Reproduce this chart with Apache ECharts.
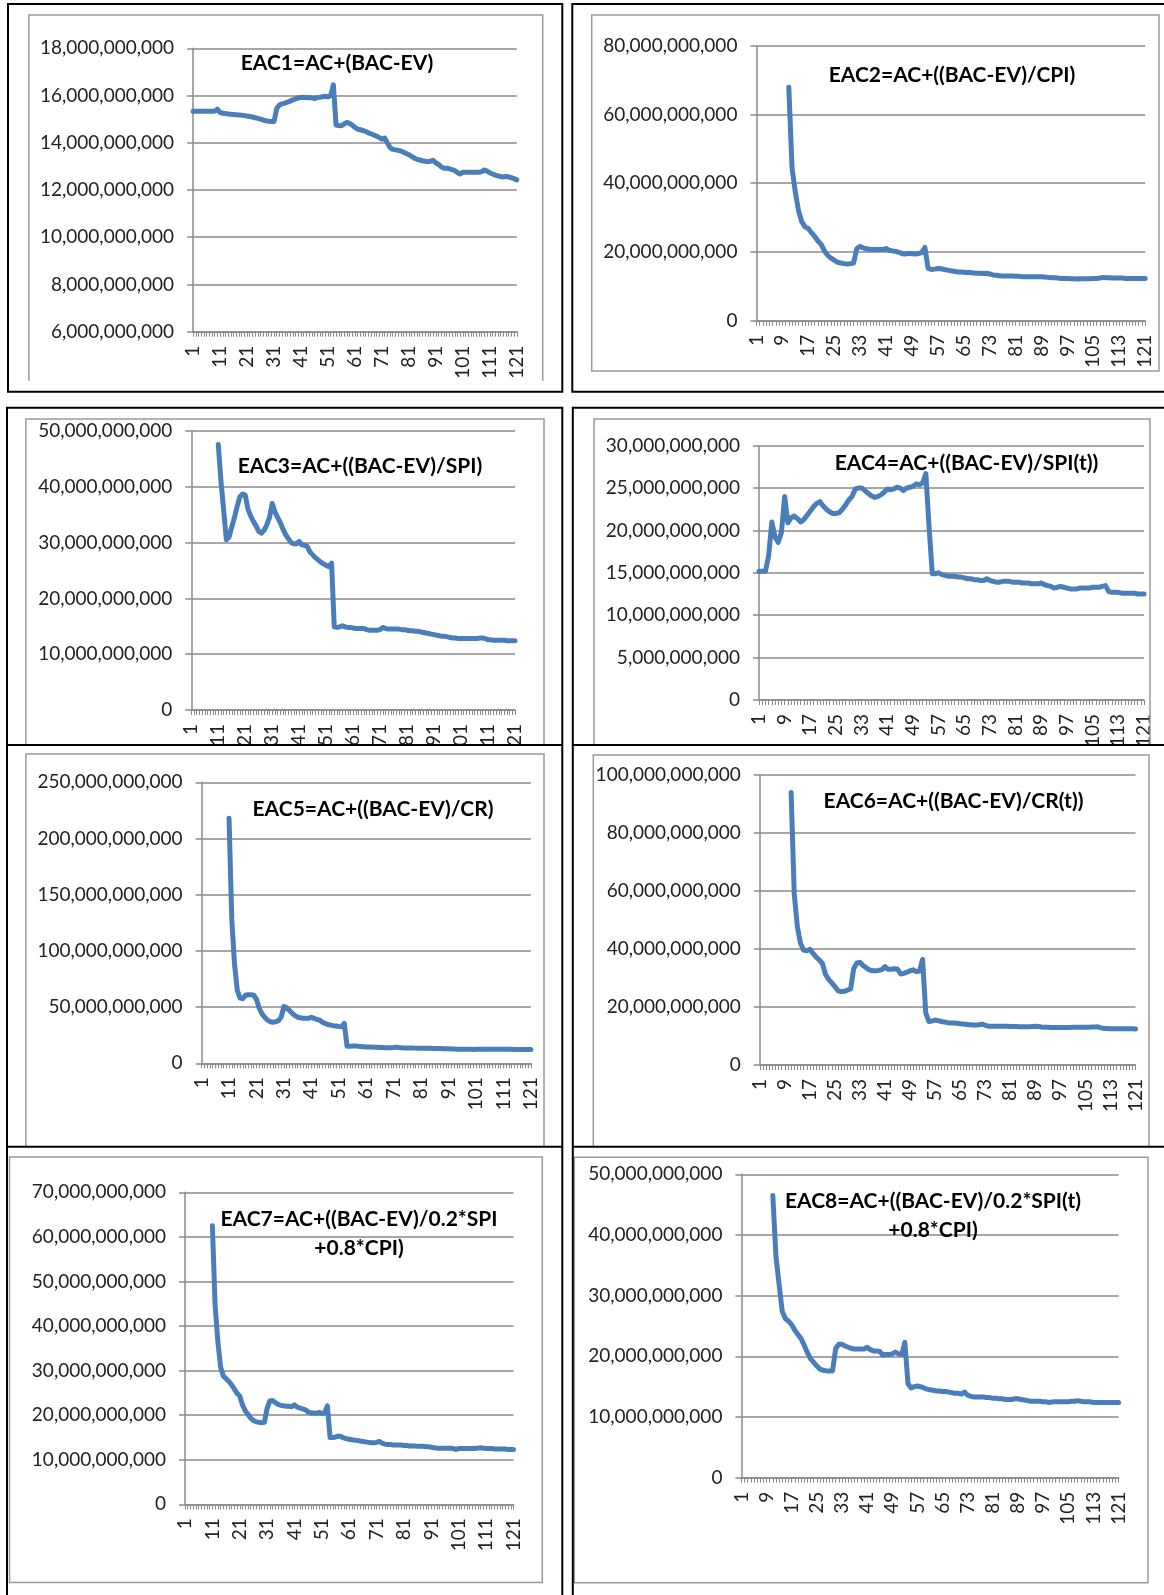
<!DOCTYPE html>
<html>
<head>
<meta charset="utf-8">
<title>EAC estimates</title>
<script src="https://cdn.jsdelivr.net/npm/echarts@6/dist/echarts.min.js"></script>
<style>
  html, body { margin: 0; padding: 0; background: #ffffff; }
  #chart { width: 1164px; height: 1595px; }
</style>
</head>
<body>
<div id="chart"></div>
<script>
// Reporting periods 1..121
const periods = Array.from({ length: 121 }, (_, i) => String(i + 1));

// Estimate at completion per period, in billions
const eac1 = [
  15.33,15.33,15.33,15.33,15.33,15.33,15.33,15.33,15.34,15.42,
  15.28,15.25,15.24,15.22,15.21,15.20,15.19,15.18,15.17,15.15,
  15.13,15.11,15.09,15.06,15.03,15.00,14.96,14.93,14.91,14.90,
  14.90,15.45,15.60,15.65,15.68,15.72,15.76,15.82,15.86,15.90,
  15.92,15.93,15.91,15.92,15.90,15.87,15.92,15.93,15.95,15.97,
  15.94,16.00,16.45,14.75,14.73,14.72,14.80,14.86,14.82,14.75,
  14.65,14.58,14.55,14.52,14.48,14.42,14.38,14.33,14.28,14.22,
  14.15,14.20,14.00,13.80,13.72,13.70,13.68,13.65,13.60,13.54,
  13.50,13.42,13.35,13.30,13.27,13.24,13.22,13.20,13.22,13.26,
  13.15,13.08,12.98,12.92,12.92,12.90,12.86,12.82,12.74,12.68,
  12.75,12.75,12.75,12.75,12.75,12.75,12.75,12.78,12.85,12.80,
  12.73,12.68,12.63,12.60,12.57,12.55,12.58,12.55,12.52,12.48,
  12.43
];
const eac2 = [
  null,null,null,null,null,null,null,null,null,null,
  67.9,44.5,37.5,32.0,28.8,27.3,26.8,25.6,24.5,23.2,
  22.2,20.3,19.0,18.2,17.6,17.0,16.8,16.6,16.5,16.6,
  16.8,21.0,21.6,21.2,20.9,20.8,20.7,20.7,20.7,20.7,
  21.0,20.5,20.3,20.2,19.9,19.5,19.4,19.6,19.5,19.4,
  19.5,19.8,21.3,15.2,14.9,15.0,15.2,15.1,14.9,14.7,
  14.5,14.4,14.2,14.2,14.1,14.0,14.0,13.9,13.8,13.8,
  13.7,13.8,13.6,13.3,13.2,13.1,13.0,13.0,13.0,13.0,
  12.9,12.9,12.8,12.8,12.8,12.8,12.8,12.8,12.8,12.7,
  12.6,12.5,12.5,12.4,12.3,12.3,12.3,12.2,12.2,12.1,
  12.2,12.2,12.2,12.2,12.3,12.3,12.4,12.6,12.5,12.5,
  12.4,12.4,12.4,12.4,12.3,12.3,12.3,12.3,12.3,12.3,
  12.3
];
const eac3 = [
  null,null,null,null,null,null,null,null,null,null,
  47.6,41.0,35.8,30.5,31.0,32.8,34.5,36.5,38.2,38.7,
  38.5,36.0,34.8,33.8,33.0,32.0,31.7,32.2,33.2,34.5,
  37.0,35.5,34.5,33.6,32.4,31.4,30.7,30.0,29.8,29.8,
  30.2,29.6,29.5,29.3,28.3,27.8,27.3,26.9,26.5,26.2,
  25.9,25.7,26.3,14.9,14.8,14.9,15.1,14.9,14.8,14.8,
  14.7,14.6,14.6,14.6,14.6,14.4,14.3,14.3,14.3,14.3,
  14.4,14.8,14.6,14.5,14.5,14.5,14.5,14.5,14.4,14.4,
  14.3,14.2,14.2,14.1,14.1,14.0,13.9,13.8,13.7,13.6,
  13.5,13.4,13.3,13.2,13.2,13.1,13.0,12.9,12.9,12.8,
  12.8,12.8,12.8,12.8,12.8,12.8,12.8,12.9,12.9,12.8,
  12.6,12.6,12.5,12.5,12.5,12.5,12.5,12.4,12.4,12.4,
  12.4
];
const eac4 = [
  15.2,15.2,15.2,17.0,21.0,19.2,18.6,19.8,24.0,20.9,
  21.5,21.7,21.4,21.0,21.3,21.8,22.3,22.8,23.2,23.4,
  22.9,22.5,22.2,22.0,22.0,22.1,22.5,23.0,23.6,24.0,
  24.9,25.0,25.0,24.7,24.4,24.1,23.9,24.0,24.2,24.5,
  24.9,24.8,24.9,25.1,25.0,24.7,25.0,25.1,25.2,25.5,
  25.4,25.6,26.7,20.5,14.9,14.9,15.0,14.8,14.7,14.6,
  14.6,14.6,14.5,14.5,14.4,14.3,14.3,14.2,14.2,14.1,
  14.1,14.3,14.1,14.0,13.9,13.9,14.0,14.0,14.0,13.9,
  13.9,13.9,13.8,13.8,13.8,13.7,13.7,13.7,13.8,13.6,
  13.5,13.4,13.2,13.3,13.4,13.3,13.2,13.1,13.1,13.1,
  13.2,13.2,13.2,13.2,13.3,13.3,13.3,13.4,13.5,12.8,
  12.7,12.7,12.7,12.6,12.6,12.6,12.6,12.6,12.5,12.5,
  12.5
];
const eac5 = [
  null,null,null,null,null,null,null,null,null,null,
  218,128,88,65,58,57.5,60.5,61,61,60.5,
  57,49,44,41,38.5,37,36.5,37,38,41,
  50.5,49.5,47,44.5,42.5,41,40.5,40,40,40,
  41,40,39,38.5,36.5,35.5,34.5,34,33.5,33.2,
  32.8,32.6,35.5,15.2,15.2,15.4,15.5,15.2,15.0,14.8,
  14.6,14.5,14.4,14.3,14.2,14.1,14.0,13.9,13.9,13.9,
  14.0,14.4,14.0,13.8,13.7,13.6,13.6,13.6,13.5,13.5,
  13.4,13.4,13.3,13.3,13.2,13.2,13.1,13.1,13.0,13.0,
  12.9,12.8,12.7,12.6,12.6,12.5,12.5,12.4,12.4,12.3,
  12.4,12.4,12.4,12.4,12.4,12.5,12.5,12.6,12.6,12.5,
  12.5,12.4,12.4,12.4,12.3,12.3,12.3,12.3,12.3,12.3,
  12.3
];
const eac6 = [
  null,null,null,null,null,null,null,null,null,null,
  94,59,47.7,42,39.6,39.4,39.9,38.5,37.2,36.2,
  35.0,31.2,29.5,28.3,27.0,25.6,25.3,25.4,25.8,26.2,
  33.3,35.2,35.4,34.3,33.5,32.8,32.5,32.5,32.6,32.9,
  33.9,33.0,33.0,33.2,33.0,31.4,31.6,32.0,32.5,32.8,
  32.2,32.4,36.4,18.0,15.0,15.2,15.5,15.3,15.0,14.8,
  14.6,14.5,14.5,14.4,14.2,14.1,14.0,13.9,13.8,13.8,
  13.9,14.1,13.7,13.4,13.4,13.4,13.4,13.4,13.4,13.4,
  13.3,13.3,13.3,13.2,13.2,13.2,13.2,13.3,13.4,13.3,
  13.1,13.0,13.0,12.9,12.9,12.9,12.9,12.9,12.9,12.9,
  13.0,13.0,13.0,13.0,13.0,13.0,13.1,13.1,13.2,12.8,
  12.6,12.6,12.5,12.5,12.5,12.5,12.5,12.5,12.5,12.5,
  12.4
];
const eac7 = [
  null,null,null,null,null,null,null,null,null,null,
  62.5,44.7,36.5,30.8,28.8,28.2,27.6,26.8,25.9,24.9,
  24.3,22.3,21.0,20.2,19.3,18.8,18.5,18.4,18.3,18.4,
  21.5,23.2,23.3,22.8,22.4,22.2,22.1,22.0,22.0,21.9,
  22.3,21.8,21.6,21.4,21.2,20.7,20.5,20.5,20.4,20.6,
  20.4,20.5,22.1,15.0,15.0,15.1,15.3,15.2,14.9,14.7,
  14.6,14.5,14.4,14.3,14.2,14.1,14.0,13.9,13.8,13.8,
  13.9,14.1,13.7,13.5,13.4,13.4,13.3,13.3,13.3,13.3,
  13.2,13.2,13.1,13.1,13.1,13.0,13.0,13.0,12.9,12.9,
  12.8,12.7,12.6,12.6,12.6,12.6,12.6,12.6,12.5,12.3,
  12.5,12.5,12.5,12.5,12.5,12.5,12.5,12.6,12.7,12.6,
  12.5,12.5,12.5,12.4,12.4,12.4,12.4,12.4,12.3,12.3,
  12.3
];
const eac8 = [
  null,null,null,null,null,null,null,null,null,null,
  46.5,36.4,31.8,27.4,26.2,25.8,25.2,24.3,23.6,22.9,
  21.8,20.6,19.6,19.0,18.4,17.9,17.7,17.6,17.6,17.6,
  21.3,22.0,22.0,21.7,21.5,21.3,21.2,21.2,21.2,21.2,
  21.5,21.1,20.9,20.9,20.8,20.2,20.3,20.3,20.4,20.7,
  20.4,20.3,22.3,15.5,14.8,15.0,15.1,15.0,14.8,14.6,
  14.5,14.4,14.3,14.3,14.2,14.2,14.1,14.0,13.9,13.9,
  13.8,14.1,13.6,13.4,13.3,13.3,13.3,13.3,13.2,13.2,
  13.1,13.1,13.0,13.0,12.9,12.9,12.9,13.0,13.0,12.9,
  12.8,12.7,12.6,12.6,12.6,12.6,12.5,12.5,12.4,12.5,
  12.5,12.5,12.5,12.5,12.5,12.6,12.6,12.7,12.6,12.5,
  12.5,12.5,12.4,12.4,12.4,12.4,12.4,12.4,12.4,12.4,
  12.4
];

// Value-axis ranges (min, max, step) in billions, one per chart
const yRanges = [
  [6, 18, 2], [0, 80, 20], [0, 50, 10], [0, 30, 5],
  [0, 250, 50], [0, 100, 20], [0, 70, 10], [0, 50, 10]
];
// Category label spacing per chart
const labelEvery = [10, 8, 10, 8, 10, 8, 10, 8];
// Formula captions
const captions = [
  ['EAC1=AC+(BAC-EV)'],
  ['EAC2=AC+((BAC-EV)/CPI)'],
  ['EAC3=AC+((BAC-EV)/SPI)'],
  ['EAC4=AC+((BAC-EV)/SPI(t))'],
  ['EAC5=AC+((BAC-EV)/CR)'],
  ['EAC6=AC+((BAC-EV)/CR(t))'],
  ['EAC7=AC+((BAC-EV)/0.2*SPI', '+0.8*CPI)'],
  ['EAC8=AC+((BAC-EV)/0.2*SPI(t)', '+0.8*CPI)']
];
const series = [eac1, eac2, eac3, eac4, eac5, eac6, eac7, eac8];

const BILLION = 1e9;

// Layout: plot rectangles and caption anchors
const layout = [
  { l: 193.1, t: 48.3,   w: 323.7, h: 283.4, cx: 337,   cy: 63 },
  { l: 756.4, t: 45.7,   w: 388.8, h: 275.0, cx: 952,   cy: 75 },
  { l: 191.3, t: 431.0,  w: 323.7, h: 279.0, cx: 360,   cy: 466 },
  { l: 759.0, t: 445.7,  w: 385.0, h: 254.3, cx: 966.5, cy: 463 },
  { l: 201.6, t: 782.3,  w: 329.3, h: 281.0, cx: 373,   cy: 809 },
  { l: 759.8, t: 775.0,  w: 375.7, h: 290.0, cx: 953.5, cy: 801 },
  { l: 185.0, t: 1192.3, w: 328.5, h: 312.0, cx: 359,   cy: 1219, lh: 29 },
  { l: 741.4, t: 1174.3, w: 377.2, h: 303.4, cx: 933,   cy: 1201, lh: 29 }
];

const FONT = 'Lato, "Open Sans", "Liberation Sans", sans-serif';
const GRID_GRAY = '#8a8a8a';
const FRAME_GRAY = '#9a9a9a';
const TEXT = '#222222';
const BLUE = '#4a7ebb';

function withCommas(v) {
  return String(Math.round(v)).replace(/\B(?=(\d{3})+(?!\d))/g, ',');
}

const grids = layout.map(p => ({
  left: p.l, top: p.t, width: p.w, height: p.h,
  containLabel: false, outerBoundsMode: 'none'
}));

const xAxes = layout.map((p, i) => ({
  type: 'category',
  gridIndex: i,
  data: periods,
  boundaryGap: false,
  axisLine: { show: true, lineStyle: { color: GRID_GRAY, width: 1.5 } },
  axisTick: { show: true, interval: 0, length: 5, lineStyle: { color: GRID_GRAY, width: 1 } },
  axisLabel: {
    interval: labelEvery[i] - 1, rotate: 90, margin: 14,
    fontFamily: FONT, fontSize: 19, color: TEXT
  },
  splitLine: { show: false }
}));

const yAxes = layout.map((p, i) => ({
  type: 'value',
  gridIndex: i,
  min: yRanges[i][0] * BILLION,
  max: yRanges[i][1] * BILLION,
  interval: yRanges[i][2] * BILLION,
  axisLine: { show: true, lineStyle: { color: GRID_GRAY, width: 1.5 } },
  axisTick: { show: true, length: 6, lineStyle: { color: GRID_GRAY, width: 1.5 } },
  axisLabel: {
    margin: 19, fontFamily: FONT, fontSize: 19, color: TEXT,
    formatter: v => withCommas(v)
  },
  splitLine: { show: true, lineStyle: { color: GRID_GRAY, width: 1.5 } }
}));

const lines = series.map((vals, i) => ({
  type: 'line',
  xAxisIndex: i,
  yAxisIndex: i,
  data: vals.map(v => (v == null ? null : v * BILLION)),
  symbol: 'none',
  showSymbol: false,
  silent: true,
  z: 3,
  lineStyle: { color: BLUE, width: 5, cap: 'round', join: 'round' }
}));

// Captions
const captionEls = [];
captions.forEach((rows, i) => {
  const p = layout[i];
  rows.forEach((txt, k) => {
    captionEls.push({
      type: 'text', z: 45, silent: true,
      style: {
        text: txt, x: p.cx, y: p.cy + k * (p.lh || 0),
        align: 'center', verticalAlign: 'middle',
        fontFamily: FONT, fontWeight: 'bold', fontSize: 21, fill: '#000000'
      }
    });
  });
});

// White strips that crop the overflowing axis labels of the second row
const covers = [
  { type: 'rect', z: 40, silent: true, shape: { x: 8.5, y: 746, width: 553, height: 17 }, style: { fill: '#ffffff' } },
  { type: 'rect', z: 40, silent: true, shape: { x: 573.5, y: 746, width: 591, height: 14 }, style: { fill: '#ffffff' } }
];

// Grey chart-area frames
const frameStyle = { stroke: FRAME_GRAY, lineWidth: 1.5, fill: null };
const frames = [
  { type: 'polyline', shape: { points: [[28.9, 380.7], [28.9, 15], [542.7, 15], [542.7, 380.7]] } },
  { type: 'rect', shape: { x: 591.7, y: 15, width: 567.3, height: 356 } },
  { type: 'polyline', shape: { points: [[25.9, 745], [25.9, 419], [544, 419], [544, 745]] } },
  { type: 'polyline', shape: { points: [[594, 745], [594, 419], [1150, 419], [1150, 745]] } },
  { type: 'polyline', shape: { points: [[25.9, 1146.7], [25.9, 754], [544, 754], [544, 1146.7]] } },
  { type: 'polyline', shape: { points: [[593.3, 1146.7], [593.3, 755], [1149, 755], [1149, 1146.7]] } },
  { type: 'rect', shape: { x: 9.5, y: 1157, width: 532.8, height: 425.5 } },
  { type: 'rect', shape: { x: 574.3, y: 1157.3, width: 573.7, height: 425.4 } }
].map(e => Object.assign(e, { z: 50, silent: true, style: Object.assign({}, frameStyle) }));

// Black table rules around the cells
const ruleStyle = { stroke: '#000000', lineWidth: 2, fill: null };
const rules = [
  { type: 'rect', shape: { x: 8, y: 4, width: 554.3, height: 387.7 } },
  { type: 'rect', shape: { x: 572.3, y: 4, width: 620, height: 387.7 } },
  { type: 'polyline', shape: { points: [[7, 1620], [7, 407.7], [562.3, 407.7], [562.3, 1620]] } },
  { type: 'polyline', shape: { points: [[1190, 407.7], [572.8, 407.7], [572.8, 1620]] } },
  { type: 'line', shape: { x1: 7, y1: 745, x2: 562.3, y2: 745 } },
  { type: 'line', shape: { x1: 572.8, y1: 745, x2: 1190, y2: 745 } },
  { type: 'line', shape: { x1: 7, y1: 1146.7, x2: 562.3, y2: 1146.7 } },
  { type: 'line', shape: { x1: 572.8, y1: 1146.7, x2: 1190, y2: 1146.7 } }
].map(e => Object.assign(e, { z: 60, silent: true, style: Object.assign({}, ruleStyle) }));

const chart = echarts.init(document.getElementById('chart'), null, { renderer: 'canvas' });
chart.setOption({
  animation: false,
  backgroundColor: '#ffffff',
  grid: grids,
  xAxis: xAxes,
  yAxis: yAxes,
  series: lines,
  graphic: { elements: [].concat(covers, captionEls, frames, rules) }
});
</script>
</body>
</html>
